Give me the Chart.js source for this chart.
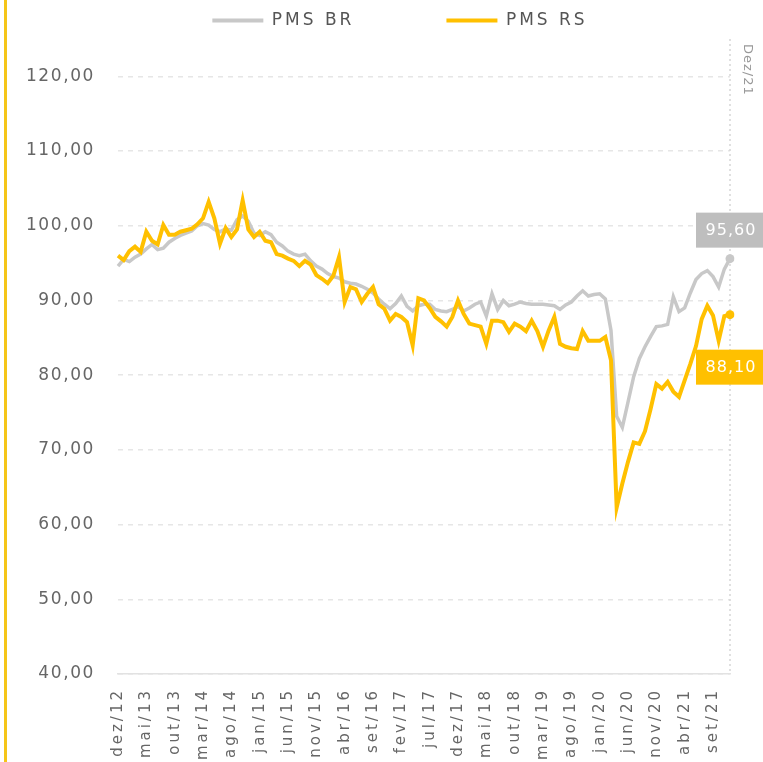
<!DOCTYPE html>
<html lang="pt-BR">
<head>
<meta charset="utf-8">
<title>PMS BR x PMS RS</title>
<script src="https://cdn.jsdelivr.net/npm/chart.js@4.4.1/dist/chart.umd.min.js"></script>
<style>
  html, body { margin: 0; padding: 0; background: #fff; overflow: hidden; }
  #barra { position: absolute; left: 4px; top: 0; width: 3px; height: 762px; background: #F5C518; }
  #grafico { position: absolute; left: 8px; top: 0; }
</style>
</head>
<body>
<div id="barra"></div>
<canvas id="grafico" width="755" height="762"></canvas>
<script>
// Meses (dez/12 até dez/21)
const meses = [
  'dez/12',
  'jan/13', 'fev/13', 'mar/13', 'abr/13', 'mai/13', 'jun/13', 'jul/13', 'ago/13', 'set/13', 'out/13', 'nov/13', 'dez/13',
  'jan/14', 'fev/14', 'mar/14', 'abr/14', 'mai/14', 'jun/14', 'jul/14', 'ago/14', 'set/14', 'out/14', 'nov/14', 'dez/14',
  'jan/15', 'fev/15', 'mar/15', 'abr/15', 'mai/15', 'jun/15', 'jul/15', 'ago/15', 'set/15', 'out/15', 'nov/15', 'dez/15',
  'jan/16', 'fev/16', 'mar/16', 'abr/16', 'mai/16', 'jun/16', 'jul/16', 'ago/16', 'set/16', 'out/16', 'nov/16', 'dez/16',
  'jan/17', 'fev/17', 'mar/17', 'abr/17', 'mai/17', 'jun/17', 'jul/17', 'ago/17', 'set/17', 'out/17', 'nov/17', 'dez/17',
  'jan/18', 'fev/18', 'mar/18', 'abr/18', 'mai/18', 'jun/18', 'jul/18', 'ago/18', 'set/18', 'out/18', 'nov/18', 'dez/18',
  'jan/19', 'fev/19', 'mar/19', 'abr/19', 'mai/19', 'jun/19', 'jul/19', 'ago/19', 'set/19', 'out/19', 'nov/19', 'dez/19',
  'jan/20', 'fev/20', 'mar/20', 'abr/20', 'mai/20', 'jun/20', 'jul/20', 'ago/20', 'set/20', 'out/20', 'nov/20', 'dez/20',
  'jan/21', 'fev/21', 'mar/21', 'abr/21', 'mai/21', 'jun/21', 'jul/21', 'ago/21', 'set/21', 'out/21', 'nov/21', 'dez/21'
];

const pmsBR = [
  94.6,
  95.5, 95.2, 95.8, 96.2, 96.9, 97.5, 96.8, 97.0, 97.8, 98.3, 98.7, 99.0,
  99.3, 100.0, 100.3, 100.1, 99.5, 99.2, 99.6, 99.4, 100.8, 101.3, 100.6, 99.0,
  98.7, 99.2, 98.8, 97.8, 97.3, 96.6, 96.2, 96.0, 96.2, 95.3, 94.6, 94.2,
  93.6, 93.2, 93.0, 92.5, 92.3, 92.2, 91.9, 91.5, 91.0, 90.2, 89.5, 88.9,
  89.6, 90.6, 89.2, 88.6, 89.3, 89.5, 89.5, 88.8, 88.6, 88.5, 88.8, 89.2,
  88.6, 89.0, 89.5, 89.8, 87.9, 90.9, 88.8, 90.0, 89.3, 89.5, 89.8, 89.6,
  89.5, 89.5, 89.5, 89.4, 89.3, 88.8, 89.4, 89.8, 90.6, 91.3, 90.6, 90.8,
  90.9, 90.2, 86.0, 74.5, 73.0, 76.4, 79.8, 82.2, 83.8, 85.2, 86.5, 86.6,
  86.8, 90.5, 88.5, 89.0, 91.0, 92.8, 93.6, 94.0, 93.2, 91.8, 94.2, 95.6
];

const pmsRS = [
  96.0,
  95.4, 96.6, 97.2, 96.5, 99.2, 98.0, 97.5, 100.1, 98.8, 98.8, 99.2, 99.4,
  99.6, 100.2, 101.0, 103.2, 101.0, 97.6, 99.7, 98.5, 99.5, 103.4, 99.5, 98.5,
  99.2, 98.0, 97.8, 96.2, 96.0, 95.6, 95.3, 94.6, 95.3, 94.8, 93.4, 92.9,
  92.3, 93.3, 95.8, 89.8, 91.8, 91.5, 89.8, 90.9, 91.8, 89.5, 88.9, 87.3,
  88.2, 87.8, 87.1, 84.0, 90.3, 90.0, 89.0, 87.8, 87.2, 86.5, 87.8, 90.0,
  88.2, 86.9, 86.7, 86.5, 84.2, 87.3, 87.3, 87.1, 85.8, 86.9, 86.5, 85.9,
  87.3, 85.9, 83.8, 86.0, 87.8, 84.2, 83.8, 83.6, 83.5, 85.9, 84.6, 84.6,
  84.6, 85.1, 82.0, 62.3, 65.5, 68.4, 71.0, 70.8, 72.5, 75.5, 78.8, 78.2,
  79.1, 77.8, 77.1, 79.3, 81.5, 83.9, 87.5, 89.3, 88.0, 84.6, 87.9, 88.1
];

const ticksY = [40, 50, 60, 70, 80, 90, 100, 110, 120];

const corBR = '#C8C8C8';
const corRS = '#FFC000';
const ultimo = meses.length - 1;

const formatar = v => v.toFixed(2).replace('.', ',');

Chart.defaults.font.family = "'DejaVu Sans', sans-serif";
Chart.defaults.color = '#666';

// espaçamento entre letras (o original usa uma fonte bem larga)
const espacamento = {
  id: 'espacamento',
  beforeUpdate(chart) { chart.ctx.letterSpacing = '3px'; },
  beforeDraw(chart) { chart.ctx.letterSpacing = '3px'; },
  // legenda um pouco deslocada para a direita, como no original
  afterLayout(chart) {
    chart.legend.left += 31;
    chart.legend.right += 31;
  }
};

// linha vertical tracejada em dez/21 e rótulos dos últimos valores
const marcaFinal = {
  id: 'marcaFinal',
  beforeDatasetsDraw(chart) {
    const ctx = chart.ctx;
    const area = chart.chartArea;
    const x = chart.scales.x.getPixelForValue(ultimo);
    ctx.save();
    ctx.strokeStyle = '#d6d6d6';
    ctx.lineWidth = 1.5;
    ctx.setLineDash([2, 3]);
    ctx.beginPath();
    ctx.moveTo(x, area.top);
    ctx.lineTo(x, area.bottom);
    ctx.stroke();
    ctx.setLineDash([]);
    ctx.translate(x + 9, area.top + 5);
    ctx.rotate(Math.PI / 2);
    ctx.letterSpacing = '1px';
    ctx.font = "13px 'DejaVu Sans', sans-serif";
    ctx.fillStyle = '#999';
    ctx.textBaseline = 'bottom';
    ctx.textAlign = 'left';
    ctx.fillText(meses[ultimo].charAt(0).toUpperCase() + meses[ultimo].slice(1), 0, -2);
    ctx.restore();
  },
  afterDatasetsDraw(chart) {
    const ctx = chart.ctx;
    const caixa = (i, cor, acima) => {
      const pt = chart.getDatasetMeta(i).data[ultimo];
      const valor = chart.data.datasets[i].data[ultimo];
      const w = 68, h = 35;
      const top = acima ? pt.y - 11 - h : pt.y + 35;
      ctx.fillStyle = cor;
      ctx.fillRect(pt.x - w / 2, top, w, h);
      ctx.fillStyle = '#fff';
      ctx.font = "16px 'DejaVu Sans', sans-serif";
      ctx.letterSpacing = '1px';
      ctx.textAlign = 'center';
      ctx.textBaseline = 'middle';
      ctx.fillText(formatar(valor), pt.x + 1, top + h / 2 + 1);
    };
    ctx.save();
    caixa(0, '#BEBEBE', true);
    caixa(1, corRS, false);
    ctx.restore();
  }
};

// rótulos do eixo Y com espaçamento menor
function ajustarEixoY(axis) {
  axis.width = 110;
  if (!axis._espacoAjustado) {
    const desenhar = axis.drawLabels.bind(axis);
    axis.drawLabels = area => {
      const ctx = axis.ctx;
      const antes = ctx.letterSpacing;
      ctx.letterSpacing = '1.6px';
      desenhar(area);
      ctx.letterSpacing = antes;
    };
    axis._espacoAjustado = true;
  }
}

new Chart(document.getElementById('grafico'), {
  type: 'line',
  data: {
    labels: meses,
    datasets: [
      {
        label: 'PMS BR',
        data: pmsBR,
        borderColor: corBR,
        backgroundColor: corBR,
        borderWidth: 3.5,
        pointRadius: c => c.dataIndex === ultimo ? 4.5 : 0,
        pointBorderWidth: 0,
        pointBackgroundColor: corBR,
        order: 1
      },
      {
        label: 'PMS RS',
        data: pmsRS,
        borderColor: corRS,
        backgroundColor: corRS,
        borderWidth: 4,
        pointRadius: c => c.dataIndex === ultimo ? 4.5 : 0,
        pointBorderWidth: 0,
        pointBackgroundColor: corRS,
        order: 0
      }
    ]
  },
  options: {
    responsive: false,
    animation: false,
    layout: { padding: { top: -80, left: 0, right: 33, bottom: 0 } },
    plugins: {
      tooltip: { enabled: false },
      legend: {
        position: 'top',
        labels: {
          boxWidth: 51,
          boxHeight: 4,
          padding: 92,
          color: '#555',
          font: { size: 17 },
          generateLabels: chart => chart.data.datasets.map((ds, i) => ({
            text: ds.label,
            fillStyle: ds.borderColor,
            strokeStyle: ds.borderColor,
            lineWidth: 0,
            hidden: false,
            datasetIndex: i,
            fontColor: '#555'
          }))
        }
      }
    },
    scales: {
      x: {
        grid: { display: false, drawTicks: false },
        border: { display: true, color: '#e2e2e2', width: 1.5 },
        ticks: {
          autoSkip: false,
          minRotation: 90,
          maxRotation: 90,
          padding: 14,
          color: '#666',
          font: { size: 15 },
          callback: (v, i) => i % 5 === 0 ? meses[i] : ''
        },
        afterFit: axis => { axis.height = 88; }
      },
      y: {
        min: 40,
        max: 125,
        grid: { color: '#e6e6e6', lineWidth: 1.5, drawTicks: false },
        border: { display: false, dash: [5, 5] },
        ticks: {
          stepSize: 10,
          includeBounds: false,
          padding: 23,
          color: '#666',
          font: { size: 17 },
          callback: v => ticksY.includes(v) ? formatar(v) : ''
        },
        afterFit: ajustarEixoY
      }
    }
  },
  plugins: [espacamento, marcaFinal]
});
</script>
</body>
</html>
